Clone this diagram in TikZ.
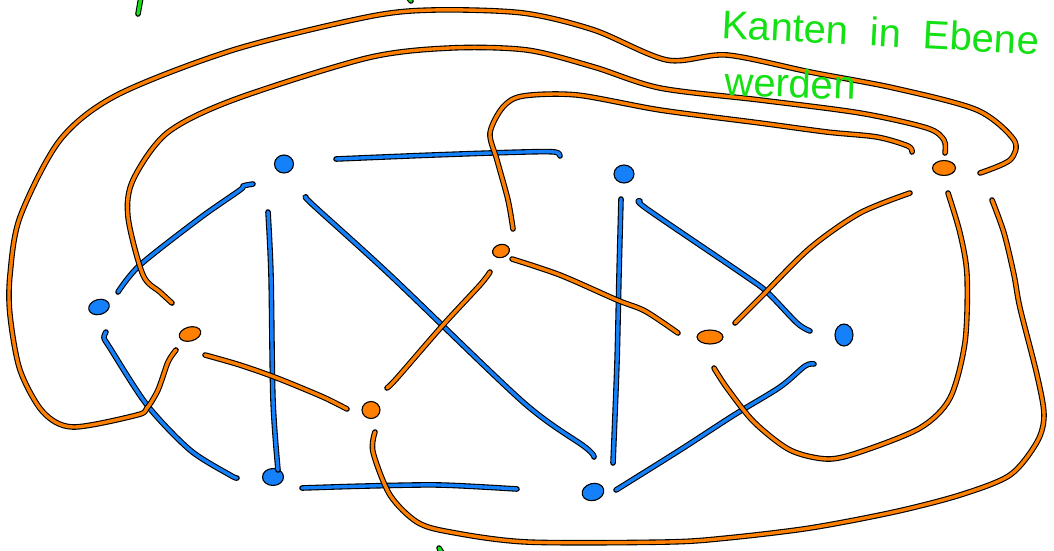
\documentclass[tikz,border=0pt]{standalone}
\usepackage{fontspec}
\setmainfont{Liberation Sans}
\usetikzlibrary{calc,shapes.geometric}
\definecolor{myblue}{RGB}{20,128,250}
\definecolor{myorange}{RGB}{255,128,0}
\definecolor{mygreen}{RGB}{20,225,20}
\tikzset{
  stroke/.style={line width=1.1pt, line cap=round, line join=round, double distance=3.4pt},
  bedge/.style={stroke, draw=black, double=myblue},
  oedge/.style={stroke, draw=black, double=myorange},
  gedge/.style={stroke, draw=black, double=mygreen},
  blob/.style={ellipse, draw=black, line width=1.1pt, inner sep=0pt},
  bnode/.style={blob, fill=myblue},
  onode/.style={blob, fill=myorange},
  handtext/.style={text=mygreen, font=\fontsize{40}{44}\selectfont, inner sep=0pt},
}
\begin{document}
\begin{tikzpicture}[x=1pt,y=-1pt]
\useasboundingbox (0,0) rectangle (1054,550);

% blue vertices
\node[bnode, minimum width=19pt, minimum height=18pt] (B1) at (284,164) {};
\node[bnode, minimum width=21pt, minimum height=15pt, rotate=15] (B2) at (99,307) {};
\node[bnode, minimum width=21pt, minimum height=17pt] (B3) at (273,477) {};
\node[bnode, minimum width=22pt, minimum height=17pt, rotate=15] (B4) at (593,492) {};
\node[bnode, minimum width=20pt, minimum height=18pt] (B5) at (624,174) {};
\node[bnode, minimum width=18pt, minimum height=22pt] (B6) at (844,335) {};

% orange vertices
\node[onode, minimum width=22pt, minimum height=14pt, rotate=15] (O1) at (190,334) {};
\node[onode, minimum width=18pt, minimum height=17pt] (O2) at (371,410) {};
\node[onode, minimum width=17pt, minimum height=13pt, rotate=15] (O3) at (501,251) {};
\node[onode, minimum width=26pt, minimum height=14pt] (O4) at (710,337) {};
\node[onode, minimum width=23pt, minimum height=15pt] (O5) at (944,168) {};

% stroke ends
\coordinate (b15a) at ($(B1)+(52,-5)$);   \coordinate (b15b) at ($(B5)+(-64,-18)$);
\coordinate (b12a) at ($(B1)+(-31,20)$);  \coordinate (b12b) at ($(B2)+(19,-15)$);
\coordinate (b13a) at ($(B1)+(-16,48)$);  \coordinate (b13b) at ($(B3)+(5,-7)$);
\coordinate (b14a) at ($(B1)+(22,33)$);   \coordinate (b14b) at ($(B4)+(1,-35)$);
\coordinate (b23a) at ($(B2)+(7,25)$);    \coordinate (b23b) at ($(B3)+(-36,1)$);
\coordinate (b34a) at ($(B3)+(29,11)$);   \coordinate (b34b) at ($(B4)+(-76,-3)$);
\coordinate (b54a) at ($(B5)+(-3,25)$);   \coordinate (b54b) at ($(B4)+(20,-29)$);
\coordinate (b56a) at ($(B5)+(16,27)$);   \coordinate (b56b) at ($(B6)+(-34,-4)$);
\coordinate (b46a) at ($(B4)+(23,-2)$);   \coordinate (b46b) at ($(B6)+(-30,29)$);

\coordinate (o15a) at ($(O1)+(-14,16)$);  \coordinate (o15b) at ($(O5)+(36,5)$);
\coordinate (o15c) at ($(O1)+(-18,-31)$); \coordinate (o15d) at ($(O5)+(1,-15)$);
\coordinate (o35a) at ($(O3)+(12,-22)$);  \coordinate (o35b) at ($(O5)+(-32,-16)$);
\coordinate (o54a) at ($(O5)+(-34,25)$);  \coordinate (o54b) at ($(O4)+(25,-14)$);
\coordinate (o54c) at ($(O5)+(4,25)$);    \coordinate (o54d) at ($(O4)+(4,31)$);
\coordinate (o52a) at ($(O5)+(48,32)$);   \coordinate (o52b) at ($(O2)+(4,22)$);
\coordinate (o12a) at ($(O1)+(15,21)$);   \coordinate (o12b) at ($(O2)+(-24,-1)$);
\coordinate (o23a) at ($(O2)+(16,-22)$);  \coordinate (o23b) at ($(O3)+(-11,21)$);
\coordinate (o34a) at ($(O3)+(11,8)$);    \coordinate (o34b) at ($(O4)+(-32,-4)$);

% blue edges
\draw[bedge] plot[smooth] coordinates {(b15a) (433,155) (523,152) (555,152) (b15b)};
\draw[bedge] plot[smooth] coordinates {(b12a) (243,186) (240,190) (200,218) (140,265) (b12b)};
\draw[bedge] plot[smooth] coordinates {(b13a) (271,275) (273,400) (b13b)};
\draw[bedge] plot[smooth] coordinates {(b14a) (313,205) (390,275) (523,402) (585,447) (b14b)};
\draw[bedge] plot[smooth] coordinates {(b23a) (104,338) (110,348) (147,405) (190,450) (230,475) (b23b)};
\draw[bedge] plot[smooth] coordinates {(b34a) (367,486) (440,485) (b34b)};
\draw[bedge] plot[smooth] coordinates {(b54a) (619,275) (617,362) (b54b)};
\draw[bedge] plot[smooth] coordinates {(b56a) (647,209) (744,275) (767,292) (797,323) (b56b)};
\draw[bedge] plot[smooth] coordinates {(b46a) (680,450) (734,415) (780,387) (805,366) (b46b)};

% orange edges
\draw[oedge] plot[smooth] coordinates {(o15a) (168,362) (158,390) (147,408) (137,415) (73,427) (43,412) (20,370) (10,315) (10,275) (20,217) (60,140) (117,95) (233,50) (367,17) (433,10) (523,13) (594,30) (667,60) (727,55) (810,72) (894,88) (977,110) (1014,140) (1010,160) (o15b)};
\draw[oedge] plot[smooth] coordinates {(o15c) (160,292) (143,275) (128,217) (133,180) (167,133) (233,100) (367,58) (450,48) (527,50) (594,67) (660,88) (760,100) (860,113) (927,128) (944,140) (o15d)};
\draw[oedge] plot[smooth] coordinates {(o35a) (508,200) (497,160) (490,133) (503,107) (523,96) (577,95) (660,110) (760,123) (827,132) (877,137) (908,146) (o35b)};
\draw[oedge] plot[smooth] coordinates {(o54a) (860,213) (810,248) (760,298) (o54b)};
\draw[oedge] plot[smooth] coordinates {(o54c) (960,233) (967,275) (965,342) (950,398) (920,428) (860,452) (827,459) (790,450) (754,422) (727,388) (o54d)};
\draw[oedge] plot[smooth] coordinates {(o52a) (1004,233) (1014,275) (1020,308) (1037,375) (1044,415) (1037,442) (1010,475) (960,495) (894,512) (810,528) (727,538) (667,542) (527,542) (450,532) (417,522) (390,495) (373,452) (o52b)};
\draw[oedge] plot[smooth] coordinates {(o12a) (240,365) (277,378) (323,397) (o12b)};
\draw[oedge] plot[smooth] coordinates {(o23a) (397,378) (443,325) (480,285) (o23b)};
\draw[oedge] plot[smooth] coordinates {(o34a) (560,275) (617,300) (645,311) (o34b)};

% green handwriting
\node[handtext, anchor=base west, rotate=-3] (t1) at (721,38) {Kanten\hspace{22pt}in\hspace{22pt}Ebene};
\node[handtext, anchor=base west, rotate=-2] (t2) at (724,95) {werden};
\draw[gedge] (141,-3) -- (138,14);
\draw[gedge] (408,-3) -- (411,1);
\draw[gedge] (439,548) -- (442,553);
\end{tikzpicture}
\end{document}
